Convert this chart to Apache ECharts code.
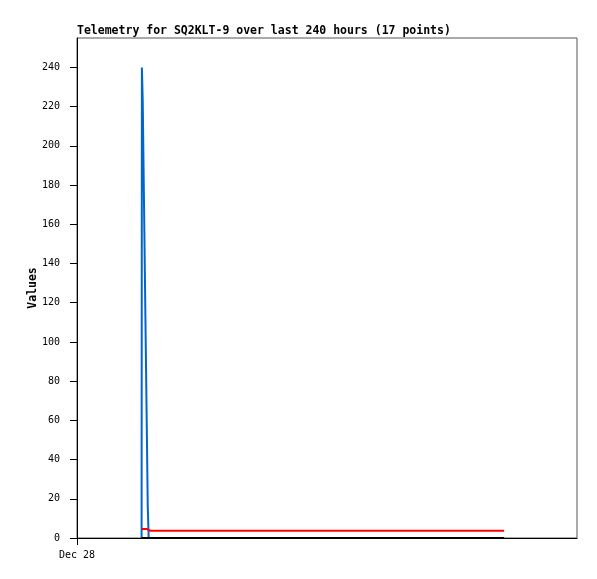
<!DOCTYPE html>
<html>
<head>
<meta charset="utf-8">
<script src="https://cdn.jsdelivr.net/npm/echarts@6/dist/echarts.min.js"></script>
<style>html,body{margin:0;padding:0;background:#fff}#c{width:597px;height:579px}</style>
</head>
<body>
<div id="c"></div>
<script>
// Hours after Dec 28 00:00 for each of the 17 samples
var hours = [31.0, 31.15, 31.55, 31.95, 32.35, 32.75, 33.15, 33.55, 33.95, 34.4, 35.2, 60, 90, 120, 150, 180, 205];
var blueValues = [0, 240, 223, 189, 155, 120, 86, 52, 17, 0, 0, 0, 0, 0, 0, 0, 0];
var redValues = [4.6, 4.6, 4.6, 4.6, 4.6, 4.6, 4.6, 4.6, 4.6, 4.6, 3.7, 3.7, 3.7, 3.7, 3.7, 3.7, 3.7];
var blackValues = [0, 0, 0, 0, 0, 0, 0, 0, 0, 0, 0, 0, 0, 0, 0, 0, 0];
var yTicks = [0, 20, 40, 60, 80, 100, 120, 140, 160, 180, 200, 220, 240];
var xTicks = [0];
var xTickLabels = ['Dec 28'];
var titleText = 'Telemetry for SQ2KLT-9 over last 240 hours (17 points)';
var yName = 'Values';

function pairs(vals) { return hours.map(function (h, i) { return [h, vals[i]]; }); }

var chart = echarts.init(document.getElementById('c'), null, { renderer: 'canvas' });
chart.setOption({
  animation: false,
  backgroundColor: '#fff',
  title: {
    text: titleText, left: 77, top: 25, padding: 0,
    textStyle: { fontFamily: 'DejaVu Sans Mono', fontSize: 11.5, fontWeight: 'bold', color: '#000' }
  },
  grid: { left: 77, right: 20, top: 38, bottom: 41, show: true, borderColor: '#555', borderWidth: 1, backgroundColor: '#fff' },
  xAxis: {
    type: 'value', min: 0, max: 240,
    axisLine: { show: true, onZero: false, lineStyle: { color: '#000', width: 1 } },
    axisTick: { show: true, length: 7, customValues: xTicks, lineStyle: { color: '#000' } },
    axisLabel: {
      customValues: xTicks, margin: 12, color: '#000',
      fontFamily: 'DejaVu Sans Mono', fontSize: 10,
      formatter: function (v) { var i = xTicks.indexOf(v); return i >= 0 ? xTickLabels[i] : ''; }
    },
    splitLine: { show: false }
  },
  yAxis: {
    type: 'value', min: 0, max: 255,
    name: yName, nameLocation: 'middle', nameGap: 38, nameRotate: 90, nameMoveOverlap: false,
    nameTextStyle: { fontFamily: 'DejaVu Sans Mono', fontSize: 11.5, fontWeight: 'bold', color: '#000' },
    axisLine: { show: true, lineStyle: { color: '#000', width: 1 } },
    axisTick: { show: true, length: 7, customValues: yTicks, lineStyle: { color: '#000' } },
    axisLabel: { customValues: yTicks, margin: 17, color: '#000', fontFamily: 'DejaVu Sans Mono', fontSize: 10 },
    splitLine: { show: false }
  },
  series: [
    { type: 'line', data: pairs(blueValues), showSymbol: false, lineStyle: { color: '#0066cc', width: 2 }, z: 2 },
    { type: 'line', data: pairs(redValues), showSymbol: false, lineStyle: { color: '#ff0000', width: 2 }, z: 3 },
    { type: 'line', data: pairs(blackValues), showSymbol: false, lineStyle: { color: '#000000', width: 2 }, z: 4 }
  ]
});
</script>
</body>
</html>
